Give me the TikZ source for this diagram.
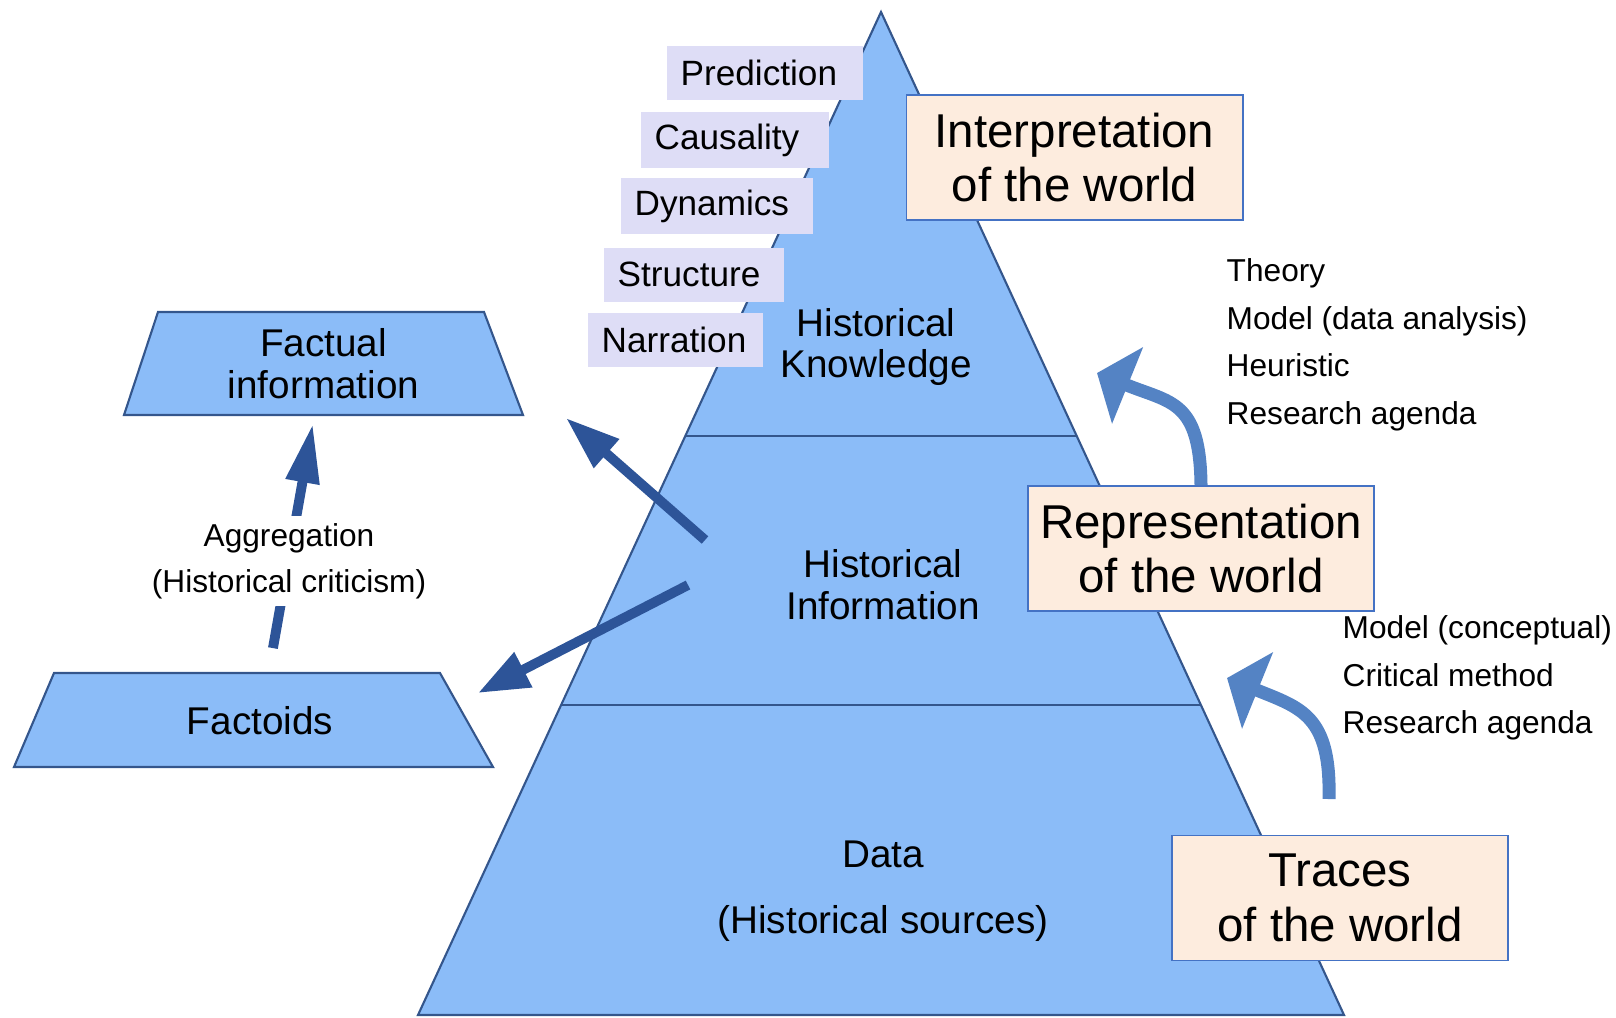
\documentclass[tikz,border=0pt]{standalone}
\usepackage{fontspec}
\setmainfont{Liberation Sans}
\usepackage{tikz}
\usetikzlibrary{shapes.geometric,arrows.meta}

\definecolor{pyrblue}{RGB}{139,188,248}
\definecolor{pyredge}{RGB}{52,86,140}
\definecolor{arrowdark}{RGB}{45,84,152}
\definecolor{arrowlight}{RGB}{84,131,196}
\definecolor{tagfill}{RGB}{222,221,246}
\definecolor{worldfill}{RGB}{253,236,222}
\definecolor{worldedge}{RGB}{68,114,196}

\begin{document}
\begin{tikzpicture}[x=0.01cm,y=-0.01cm]
        \tikzstyle{every node}=[font=\fontsize{11}{11.9}\selectfont]
        \tikzstyle{layer}=[fill=pyrblue,draw=pyredge,line width=0.6pt]
        \tikzstyle{layertext}=[align=center]
        \tikzstyle{tagbox}=[fill=tagfill,anchor=west,align=left,inner xsep=0.14cm,
        minimum height=0.54cm,font=\fontsize{10}{12}\selectfont]
        \tikzstyle{worldbox}=[fill=worldfill,draw=worldedge,line width=0.5pt,align=center,
        minimum width=3.36cm,minimum height=1.25cm,font=\fontsize{13.5}{15.6}\selectfont]
        \tikzstyle{darrow}=[draw=arrowdark,line width=2.8pt]
        \tikzstyle{carrow}=[draw=arrowlight,line width=3.7pt,-{Triangle[width=0.81cm,length=0.33cm]}]
        \tikzstyle{sidenote}=[align=left,anchor=west,inner sep=0pt,font=\fontsize{9}{13.5}\selectfont]

        \useasboundingbox (0,0) rectangle (1616,1017);

        %% Pyramid
        \coordinate (apex) at (881,12);
        \coordinate (baseL) at (418,1015);
        \coordinate (baseR) at (1344,1015);
        \path[layer] (apex) -- (baseR) -- (baseL) -- cycle;
        \draw[pyredge,line width=0.6pt] (685,436) -- (1077,436);
        \draw[pyredge,line width=0.6pt] (561,705) -- (1201,705);

        \node[layertext] (knowledge) at (876,347) {Historical\\Knowledge};
        \node[layertext] (information) at (883,585) {Historical\\Information};
        \node[layertext] (data) at (883,891) {Data\\[0.24cm](Historical sources)};

        %% Tags on the top layer
        \node[tagbox,text width=1.68cm] (prediction) at (666,73) {Prediction};
        \node[tagbox,text width=1.60cm] (causality) at (640,140) {Causality};
        \node[tagbox,text width=1.64cm] (dynamics) at (620,206) {Dynamics};
        \node[tagbox,text width=1.52cm] (structure) at (603,274.5) {Structure};
        \node[tagbox,text width=1.47cm] (narration) at (587,339.5) {Narration};

        %% World boxes
        \node[worldbox] (interpretation) at (1074.5,157.5) {Interpretation\\of the world};
        \node[worldbox] (representation) at (1201,548.5) {Representation\\of the world};
        \node[worldbox] (traces) at (1340,898) {Traces\\of the world};

        %% Side notes
        \node[sidenote] (theory) at (1226,345) {Theory\\Model (data analysis)\\Heuristic\\Research agenda};
        \node[sidenote] (method) at (1342,678) {Model (conceptual)\\Critical method\\Research agenda};

        %% Facts
        \path[layer] (158,312) -- (484,312) -- (523,415) -- (124,415) -- cycle;
        \node[align=center] (factual) at (323.5,363.5) {Factual\\information};
        \path[layer] (54,673) -- (440,673) -- (493,767) -- (14,767) -- cycle;
        \node (factoids) at (260,721) {Factoids};

        %% Arrows
        \draw[darrow,-{Triangle[width=0.32cm,length=0.59cm]},shorten <=0.47cm,shorten >=0.13cm]
        (factoids) -- (factual);
        \node[fill=white,align=center,inner sep=2pt,font=\fontsize{9}{13.1}\selectfont]
        (aggregation) at (289,561) {Aggregation\\(Historical criticism)};

        \coordinate (knowA) at (705,540);
        \coordinate (factualTip) at (566,418);
        \draw[darrow,-{Triangle[width=0.36cm,length=0.54cm]}] (knowA) -- (factualTip);
        \coordinate (infoB) at (688,585);
        \coordinate (factoidsTip) at (478,693);
        \draw[darrow,-{Triangle[width=0.37cm,length=0.51cm]}] (infoB) -- (factoidsTip);

        \coordinate (theoryTip) at (1097,373);
        \draw[carrow] (representation.north) .. controls (1200,400) and (1171,403) .. (theoryTip);
        \coordinate (tracesTail) at (1329,799);
        \coordinate (methodTip) at (1227,678);
        \draw[carrow] (tracesTail) .. controls (1331,715) and (1301,708) .. (methodTip);

\end{tikzpicture}
\end{document}
